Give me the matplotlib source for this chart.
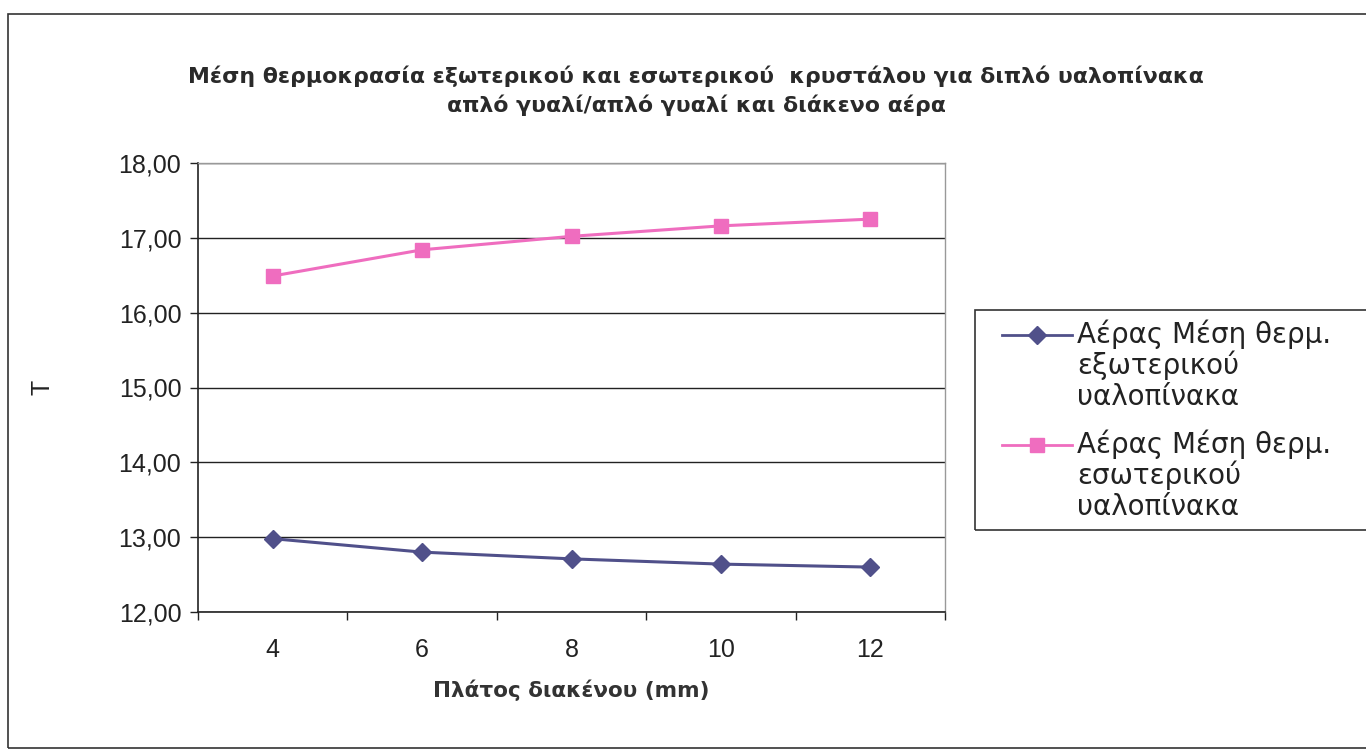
import matplotlib
matplotlib.use("Agg")
import matplotlib.pyplot as plt
from matplotlib.patches import Rectangle
from matplotlib.lines import Line2D
from matplotlib.ticker import FixedLocator, FuncFormatter, NullFormatter

plt.rcParams['font.family'] = ['Liberation Sans', 'DejaVu Sans']

# Gap width categories (mm) and mean pane temperatures
gap_labels = ["4", "6", "8", "10", "12"]
outer_pane = [12.98, 12.80, 12.71, 12.64, 12.60]
inner_pane = [16.49, 16.84, 17.02, 17.16, 17.25]

series_names = [
    "Αέρας Μέση θερμ.\nεξωτερικού\nυαλοπίνακα",
    "Αέρας Μέση θερμ.\nεσωτερικού\nυαλοπίνακα",
]
title_text = ("Μέση θερμοκρασία εξωτερικού και εσωτερικού  κρυστάλου για διπλό υαλοπίνακα\n"
              "απλό γυαλί/απλό γυαλί και διάκενο αέρα")
x_title = "Πλάτος διακένου (mm)"
y_title = "T"

W, H = 1366, 751
fig = plt.figure(figsize=(W / 100, H / 100), dpi=100)
fig.patch.set_facecolor("white")


def fx(px):
    return px / W


def fy(py):
    return 1 - py / H


# Chart area border
fig.add_artist(Rectangle((fx(8), fy(748)), fx(W + 20), (748 - 14) / H,
                         transform=fig.transFigure, fill=False,
                         edgecolor="#333333", linewidth=1.2))

ax = fig.add_axes([fx(198), fy(612), (945 - 198) / W, (612 - 163) / H])

pos = list(range(1, len(gap_labels) + 1))
navy = "#50508a"
pink = "#ef6dbf"
styles = [dict(color=navy, marker="D", ms=9), dict(color=pink, marker="s", ms=10)]
lines = []
for vals, st in zip([outer_pane, inner_pane], styles):
    ln, = ax.plot(pos, vals, color=st["color"], lw=2.2, marker=st["marker"],
                  ms=st["ms"], mfc=st["color"], mec=st["color"])
    lines.append(ln)

ax.set_xlim(0.5, len(gap_labels) + 0.5)
ax.set_ylim(12, 18)
ax.set_yticks(range(12, 19))
ax.yaxis.set_major_formatter(FuncFormatter(lambda v, p: f"{v:.2f}".replace(".", ",")))
ax.grid(axis="y", color="#222222", lw=1.0)
ax.set_axisbelow(True)

# Category ticks between categories, labels at category centres
ax.xaxis.set_major_locator(FixedLocator([p - 0.5 for p in pos] + [pos[-1] + 0.5]))
ax.xaxis.set_major_formatter(NullFormatter())
ax.xaxis.set_minor_locator(FixedLocator(pos))
ax.set_xticklabels(gap_labels, minor=True)
ax.tick_params(axis="x", which="major", length=6, width=1, color="#222222")
ax.tick_params(axis="x", which="minor", length=0, labelsize=18, pad=19,
               labelcolor="#222222")
ax.tick_params(axis="y", length=6, width=1, color="#222222", labelsize=18, pad=6,
               labelcolor="#222222")

for s in ("left", "bottom"):
    ax.spines[s].set_color("#222222")
    ax.spines[s].set_linewidth(1.2)
for s in ("top", "right"):
    ax.spines[s].set_color("#999999")
    ax.spines[s].set_linewidth(1.0)

ax.set_xlabel(x_title, fontsize=15.5, fontweight="bold", color="#333333",
              labelpad=12, family="DejaVu Sans")
ax.set_ylabel(y_title, fontsize=18, labelpad=46, color="#222222")

fig.text(fx(696), fy(91), title_text, ha="center", va="center",
         fontsize=15.8, fontweight="bold", color="#2a2a2a", linespacing=1.42,
         family="DejaVu Sans")

# Legend box: handle aligned with the first line of each multi-line entry
fig.add_artist(Rectangle((fx(975), fy(530)), fx(W + 20 - 975), (530 - 310) / H,
                         transform=fig.transFigure, fill=False,
                         edgecolor="#333333", linewidth=1.2))
first_baselines = [343, 453]
line_step = 31
for ln, name, base in zip(lines, series_names, first_baselines):
    hy = base - 8
    fig.add_artist(Line2D([fx(1002), fx(1072)], [fy(hy), fy(hy)],
                          transform=fig.transFigure, color=ln.get_color(), lw=2))
    fig.add_artist(Line2D([fx(1037)], [fy(hy)], transform=fig.transFigure,
                          marker=ln.get_marker(), ms=ln.get_markersize(),
                          color=ln.get_color(), lw=0))
    for i, part in enumerate(name.split("\n")):
        fig.text(fx(1077), fy(base + i * line_step), part, ha="left", va="baseline",
                 fontsize=20, color="#222222", family="DejaVu Sans")

fig.savefig("out.png", dpi=100)
